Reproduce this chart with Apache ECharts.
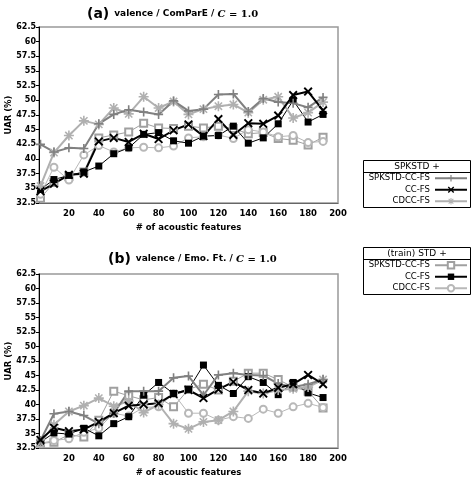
<!DOCTYPE html>
<html><head><meta charset="utf-8">
<script src="https://cdn.jsdelivr.net/npm/echarts@6/dist/echarts.min.js"></script>
<style>html,body{margin:0;padding:0;background:#fff}#c{width:473px;height:479px}</style>
</head><body><div id="c"></div>
<script>
const xs = [1,10,20,30,40,50,60,70,80,90,100,110,120,130,140,150,160,170,180,190];
const xTicks = [20,40,60,80,100,120,140,160,180,200];
const legendLabels = ['SPKSTD-CC-FS','CC-FS','CDCC-FS'];
const groupHeaders = ['SPKSTD +','(train) STD +'];

// (a) valence / ComParE
const a_spk_spk  = [42.5,41.2,41.9,41.8,46.0,47.6,48.4,48.0,47.6,49.9,48.2,48.5,51.0,51.1,48.1,50.3,49.7,49.5,48.8,50.5];
const a_spk_cc   = [34.5,35.8,37.3,37.5,43.0,43.6,42.9,44.3,43.4,44.9,45.9,43.9,46.8,44.1,46.1,46.0,47.4,50.9,51.5,48.3];
const a_spk_cdcc = [35.4,41.1,44.0,46.5,45.9,48.7,47.7,50.6,48.7,49.8,47.6,48.5,49.0,49.3,47.9,50.1,50.6,47.0,47.9,49.7];
const a_tr_spk   = [33.3,36.0,37.0,37.8,43.6,44.1,44.6,46.1,45.3,45.2,45.6,45.3,45.6,45.2,44.3,44.5,43.5,43.2,42.4,43.7];
const a_tr_cc    = [34.8,36.5,37.2,37.8,38.8,40.9,41.9,44.2,44.5,43.1,42.7,43.9,44.0,45.6,42.7,43.6,46.0,50.0,46.3,47.6];
const a_tr_cdcc  = [34.0,38.6,36.4,40.7,42.3,41.2,41.9,42.0,41.9,42.2,43.6,43.8,44.1,43.5,45.0,44.6,43.8,44.0,42.8,43.0];

// (b) valence / Emo. Ft.
const b_spk_spk  = [33.8,38.4,38.8,38.1,36.7,38.5,42.3,42.3,42.3,44.6,44.9,41.6,45.1,45.4,45.1,45.0,43.6,43.0,43.5,44.3];
const b_spk_cc   = [33.9,36.0,35.4,35.7,37.0,38.5,39.8,40.0,40.2,41.8,42.5,41.1,42.6,43.9,42.5,41.9,42.9,43.5,45.1,43.5];
const b_spk_cdcc = [33.4,36.5,38.8,39.8,41.1,39.7,40.6,38.6,40.0,36.7,35.8,37.0,37.3,38.8,42.3,41.9,42.5,42.7,43.0,44.3];
const b_tr_spk   = [33.3,33.5,34.8,34.4,37.3,42.3,41.5,40.8,41.2,39.6,42.6,43.5,42.5,44.0,45.4,45.4,44.3,43.0,42.3,39.4];
const b_tr_cc    = [33.5,35.1,34.9,35.9,34.6,36.7,37.9,41.6,43.8,41.9,42.6,46.8,43.3,41.9,44.8,43.8,41.7,43.8,42.0,41.2];
const b_tr_cdcc  = [33.3,33.8,34.1,35.2,35.9,38.5,38.0,39.5,39.6,41.9,38.5,38.5,37.3,37.9,37.6,39.2,38.5,39.6,40.2,39.5];

const PLUS = 'path://M4.1,0L5.9,0L5.9,4.1L10,4.1L10,5.9L5.9,5.9L5.9,10L4.1,10L4.1,5.9L0,5.9L0,4.1L4.1,4.1Z';
const CROSS = 'path://M0,1.5L1.5,0L10,8.5L8.5,10Z M8.5,0L10,1.5L1.5,10L0,8.5Z';
const STAR = 'path://M4.2,0L5.8,0L5.8,4.2L10,4.2L10,5.8L5.8,5.8L5.8,10L4.2,10L4.2,5.8L0,5.8L0,4.2L4.2,4.2Z M0.8,1.9L1.9,0.8L9.2,8.1L8.1,9.2Z M8.1,0.8L9.2,1.9L1.9,9.2L0.8,8.1Z';

const styles = [
  {key:'S: ', label:legendLabels[0], color:'#808080', symbol:PLUS, size:9, width:2},
  {key:'S: ', label:legendLabels[1], color:'#000000', symbol:CROSS, size:9, width:2},
  {key:'S: ', label:legendLabels[2], color:'#b0b0b0', symbol:STAR, size:10, width:2},
  {key:'T: ', label:legendLabels[0], color:'#a0a0a0', symbol:'emptyRect', size:7, width:1},
  {key:'T: ', label:legendLabels[1], color:'#000000', symbol:'rect', size:7, width:1},
  {key:'T: ', label:legendLabels[2], color:'#b8b8b8', symbol:'emptyCircle', size:7, width:1}
];
const dataA = [a_spk_spk,a_spk_cc,a_spk_cdcc,a_tr_spk,a_tr_cc,a_tr_cdcc];
const dataB = [b_spk_spk,b_spk_cc,b_spk_cdcc,b_tr_spk,b_tr_cc,b_tr_cdcc];
const order = [3,5,4,2,0,1];

const series = [];
[dataA,dataB].forEach((set,g)=>{
  order.forEach(i=>{
    const s = styles[i];
    series.push({
      type:'line', name:s.key+s.label, xAxisIndex:g, yAxisIndex:g,
      data: xs.map((x,j)=>[x,set[i][j]]),
      symbol:s.symbol, symbolSize:s.size, showSymbol:true,
      lineStyle:{color:s.color,width:s.width},
      itemStyle:{color:s.color, borderColor:s.color, borderWidth: s.symbol.startsWith('empty')?1:0},
      animation:false, z: 2
    });
  });
});

const font = 'DejaVu Sans';
const grids = [{left:39, top:27, width:299, height:176},{left:39, top:274, width:299, height:174}];
function xAxis(g){return {type:'value', gridIndex:g, min:0, max:200, interval:20,
  name:'# of acoustic features', nameLocation:'middle', nameGap:20, nameMoveOverlap:false,
  nameTextStyle:{fontFamily:font, fontSize:8.5, fontWeight:'bold', color:'#000'},
  axisLine:{lineStyle:{color:'#666',width:1}}, axisTick:{show:false},
  axisLabel:{fontFamily:font, fontSize:8.5, fontWeight:'bold', color:'#000', margin:6,
    formatter:v=> xTicks.includes(v)?String(v):''},
  splitLine:{show:false}};}
function yAxis(g){return {type:'value', gridIndex:g, min:32.5, max:62.5, interval:2.5,
  name:'UAR (%)', nameLocation:'middle', nameGap:26, nameRotate:90, nameMoveOverlap:false,
  nameTextStyle:{fontFamily:font, fontSize:8.5, fontWeight:'bold', color:'#000'},
  axisLine:{show:true, lineStyle:{color:'#000',width:1}},
  axisTick:{show:true, length:3, lineStyle:{color:'#000'}},
  axisLabel:{fontFamily:font, fontSize:8, fontWeight:'bold', color:'#000', margin:3},
  splitLine:{show:false}};}

function titleText(tag, mid){
  return '{a|'+tag+'} {b|valence / '+mid+' / }{c|C}{d| = 1.0}';
}
const rich = {a:{fontFamily:font, fontSize:14, fontWeight:'bold', color:'#000'},
  b:{fontFamily:font, fontSize:9, fontWeight:'bold', color:'#000'},
  c:{fontFamily:'DejaVu Serif', fontStyle:'italic', fontSize:10, color:'#000'},
  d:{fontFamily:'DejaVu Serif', fontSize:10, color:'#000'}};

function legend(key, top){return {orient:'vertical', align:'right', right:5, top:top,
  padding:0, itemGap:0, itemWidth:32, itemHeight:8, z:20,
  data: legendLabels.map(l=>key+l),
  formatter: n=> n.slice(3),
  selectedMode:false,
  textStyle:{fontFamily:font, fontSize:8.5, color:'#000', lineHeight:11.5}};}

function legendBox(y, h, header){
  return [
    {type:'rect', shape:{x:363.5, y:y+0.5, width:107, height:h}, style:{fill:'none', stroke:'#000', lineWidth:1}, z:0},
    {type:'line', shape:{x1:363.5, y1:y+12.5, x2:470.5, y2:y+12.5}, style:{stroke:'#000', lineWidth:1}, z:1},
    {type:'text', x:417, y:y+6.5, style:{text:header, fontFamily:font, fontSize:9, fill:'#000', align:'center', verticalAlign:'middle'}, z:1}
  ];
}

const chart = echarts.init(document.getElementById('c'), null, {renderer:'canvas'});
chart.setOption({
  backgroundColor:'#fff',
  animation:false,
  title:[
    {text:titleText('(a)','ComParE'), left:82, top:0, textStyle:{rich:rich}},
    {text:titleText('(b)','Emo. Ft.'), left:103, top:245, textStyle:{rich:rich}}
  ],
  grid: grids.map(g=>Object.assign({show:true, borderColor:'#999', borderWidth:1.5, backgroundColor:'transparent', containLabel:false, outerBoundsMode:'none'}, g)),
  xAxis:[xAxis(0),xAxis(1)],
  yAxis:[yAxis(0),yAxis(1)],
  legend:[legend('S: ',172.5), legend('T: ',259.5)],
  graphic: legendBox(160,47,groupHeaders[0]).concat(legendBox(247,47,groupHeaders[1])),
  series: series
});
</script></body></html>
